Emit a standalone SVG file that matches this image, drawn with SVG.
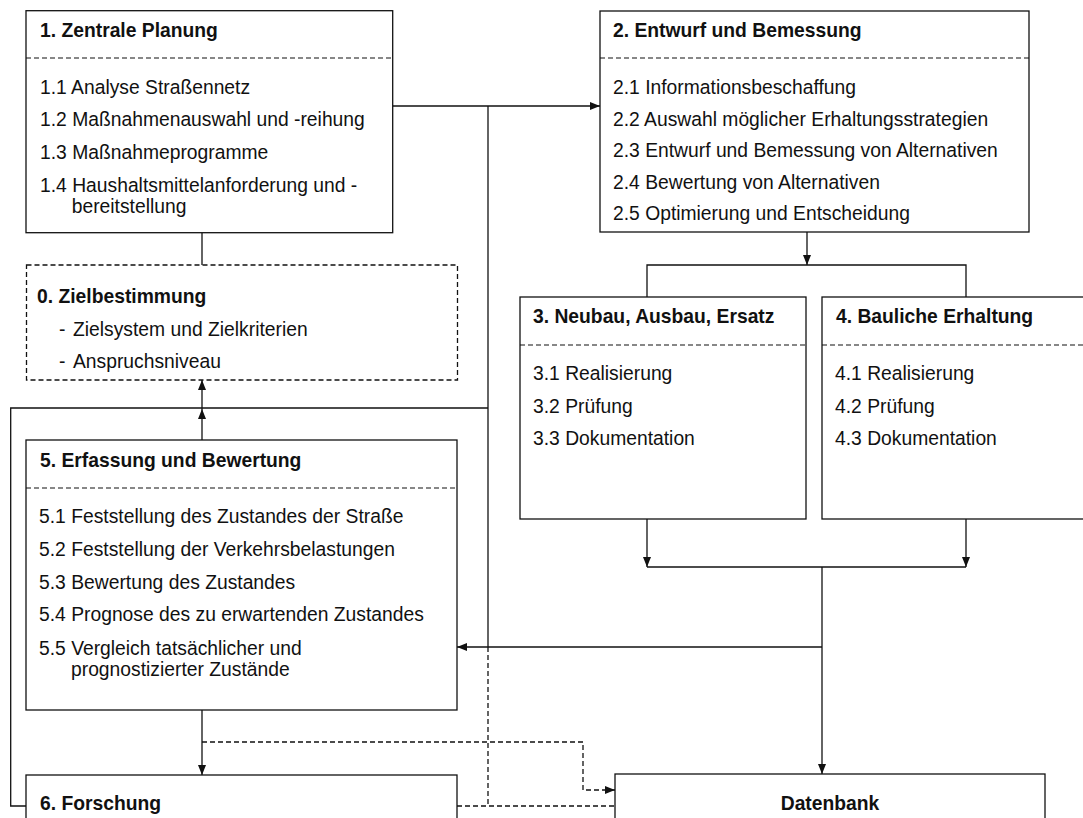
<svg xmlns="http://www.w3.org/2000/svg" width="1083" height="818" viewBox="0 0 1083 818">
  <style>
    text { font-family: "Liberation Sans", Arial, sans-serif; font-size: 19.3px; fill: #111; }
    .title { font-weight: bold; }
    .box { fill: #fff; stroke: #111; stroke-width: 1.3; }
    .dbox { fill: #fff; stroke: #111; stroke-width: 1.3; stroke-dasharray: 5 3; }
    .sep { stroke: #111; stroke-width: 1.1; stroke-dasharray: 5 3; fill: none; }
    .line { stroke: #111; stroke-width: 1.3; fill: none; }
    .dash { stroke: #111; stroke-width: 1.3; fill: none; stroke-dasharray: 5 3; }
  </style>
  <defs>
    <marker id="arrow" viewBox="0 0 10 8" refX="10" refY="4" markerWidth="10" markerHeight="8" markerUnits="userSpaceOnUse" orient="auto">
      <path d="M0,0 L10,4 L0,8 Z" fill="#111"/>
    </marker>
  </defs>

  <rect width="1083" height="818" fill="#fff"/>

  <!-- connectors -->
  <g id="connectors">
    <!-- 1 -> 2 with branch down -->
    <line class="line" x1="392.7" y1="106" x2="600" y2="106" marker-end="url(#arrow)"/>
    <line class="line" x1="488" y1="106" x2="488" y2="647"/>
    <line class="dash" x1="488" y1="647" x2="488" y2="806"/>
    <!-- loop to 6 -->
    <polyline class="line" points="488,408 10.7,408 10.7,806 26,806"/>
    <!-- 1 -> 0 -->
    <line class="line" x1="202" y1="233" x2="202" y2="265"/>
    <!-- 5 -> 0 -->
    <line class="line" x1="202" y1="440" x2="202" y2="409" marker-end="url(#arrow)"/>
    <line class="line" x1="202" y1="409" x2="202" y2="380" marker-end="url(#arrow)"/>
    <!-- 2 -> 3, 4 -->
    <line class="line" x1="807" y1="232" x2="807" y2="265" marker-end="url(#arrow)"/>
    <polyline class="line" points="647,297 647,265 966,265 966,297"/>
    <!-- 3, 4 -> Datenbank -->
    <line class="line" x1="647" y1="519" x2="647" y2="567" marker-end="url(#arrow)"/>
    <line class="line" x1="966" y1="519" x2="966" y2="567" marker-end="url(#arrow)"/>
    <line class="line" x1="647" y1="567" x2="966" y2="567"/>
    <line class="line" x1="822" y1="567" x2="822" y2="774" marker-end="url(#arrow)"/>
    <!-- back to 5 -->
    <line class="line" x1="822" y1="647" x2="457" y2="647" marker-end="url(#arrow)"/>
    <!-- 5 -> 6 -->
    <line class="line" x1="202" y1="710" x2="202" y2="775" marker-end="url(#arrow)"/>
    <!-- dashed data links -->
    <polyline class="dash" points="202,742 583,742 583,790 615,790" marker-end="url(#arrow)"/>
    <line class="dash" x1="457" y1="806" x2="615" y2="806"/>
  </g>

  <!-- 1. Zentrale Planung -->
  <g id="node1">
    <rect class="box" x="26" y="10.7" width="366.7" height="222"/>
    <line class="sep" x1="26" y1="58" x2="392.7" y2="58"/>
    <text class="title" x="40" y="36.7">1. Zentrale Planung</text>
    <text x="40" y="93.5">1.1 Analyse Straßennetz</text>
    <text x="40" y="126">1.2 Maßnahmenauswahl und -reihung</text>
    <text x="40" y="159">1.3 Maßnahmeprogramme</text>
    <text x="40" y="191.5">1.4 Haushaltsmittelanforderung und -</text>
    <text x="71.7" y="213">bereitstellung</text>
  </g>

  <!-- 2. Entwurf und Bemessung -->
  <g id="node2">
    <rect class="box" x="600" y="11" width="429" height="221"/>
    <line class="sep" x1="600" y1="58" x2="1029" y2="58"/>
    <text class="title" x="613" y="37">2. Entwurf und Bemessung</text>
    <text x="613" y="94">2.1 Informationsbeschaffung</text>
    <text x="613" y="126">2.2 Auswahl möglicher Erhaltungsstrategien</text>
    <text x="613" y="157">2.3 Entwurf und Bemessung von Alternativen</text>
    <text x="613" y="188.5">2.4 Bewertung von Alternativen</text>
    <text x="613" y="220">2.5 Optimierung und Entscheidung</text>
  </g>

  <!-- 0. Zielbestimmung -->
  <g id="node0">
    <rect class="dbox" x="26.5" y="265" width="431" height="115"/>
    <text class="title" x="37" y="303">0. Zielbestimmung</text>
    <text x="59" y="336">-</text>
    <text x="73" y="336">Zielsystem und Zielkriterien</text>
    <text x="59" y="367.5">-</text>
    <text x="73" y="367.5">Anspruchsniveau</text>
  </g>

  <!-- 3. Neubau, Ausbau, Ersatz -->
  <g id="node3">
    <rect class="box" x="520" y="297" width="286" height="222"/>
    <line class="sep" x1="520" y1="345" x2="806" y2="345"/>
    <text class="title" x="533" y="323">3. Neubau, Ausbau, Ersatz</text>
    <text x="533" y="379.5">3.1 Realisierung</text>
    <text x="533" y="413">3.2 Prüfung</text>
    <text x="533" y="445">3.3 Dokumentation</text>
  </g>

  <!-- 4. Bauliche Erhaltung -->
  <g id="node4">
    <rect class="box" x="822" y="297" width="280" height="222"/>
    <line class="sep" x1="822" y1="345" x2="1083" y2="345"/>
    <text class="title" x="836" y="323">4. Bauliche Erhaltung</text>
    <text x="835" y="379.5">4.1 Realisierung</text>
    <text x="835" y="413">4.2 Prüfung</text>
    <text x="835" y="445">4.3 Dokumentation</text>
  </g>

  <!-- 5. Erfassung und Bewertung -->
  <g id="node5">
    <rect class="box" x="26" y="440" width="431" height="270"/>
    <line class="sep" x1="26" y1="488" x2="457" y2="488"/>
    <text class="title" x="40" y="467">5. Erfassung und Bewertung</text>
    <text x="39" y="523">5.1 Feststellung des Zustandes der Straße</text>
    <text x="39" y="556">5.2 Feststellung der Verkehrsbelastungen</text>
    <text x="39" y="588.5">5.3 Bewertung des Zustandes</text>
    <text x="39" y="621">5.4 Prognose des zu erwartenden Zustandes</text>
    <text x="39" y="654.5">5.5 Vergleich tatsächlicher und</text>
    <text x="71" y="676">prognostizierter Zustände</text>
  </g>

  <!-- 6. Forschung -->
  <g id="node6">
    <rect class="box" x="26" y="775" width="431" height="60"/>
    <text class="title" x="40" y="810">6. Forschung</text>
  </g>

  <!-- Datenbank -->
  <g id="datenbank">
    <rect class="box" x="615" y="774" width="430" height="60"/>
    <text class="title" x="830" y="810" text-anchor="middle">Datenbank</text>
  </g>
</svg>
